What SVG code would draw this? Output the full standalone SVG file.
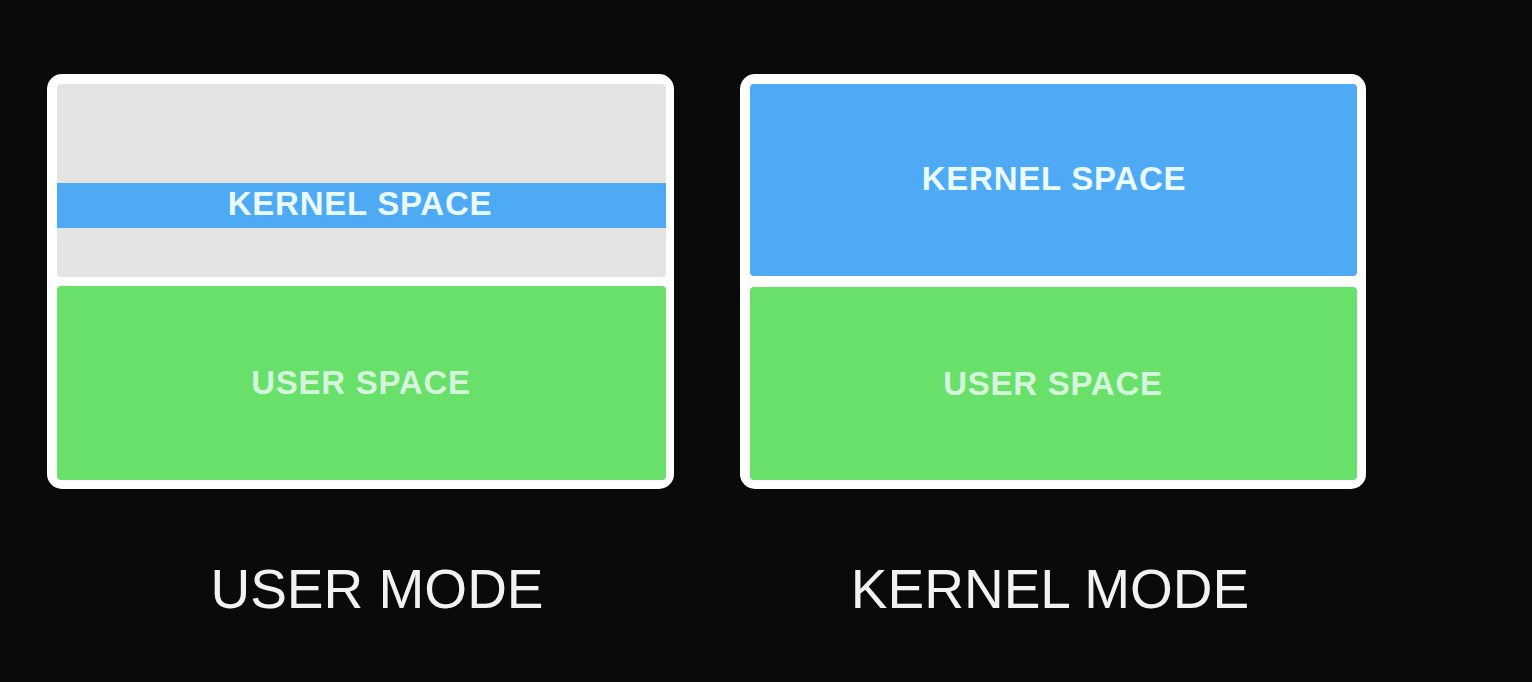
<svg xmlns="http://www.w3.org/2000/svg" width="1532" height="682" viewBox="0 0 1532 682">
<style>
.card{fill:#ffffff;}
.grey{fill:#e4e5e3;}
.blue{fill:#4eaaf4;}
.green{fill:#68e06a;}
.lbl{font-family:"Liberation Sans",Arial,sans-serif;font-weight:bold;font-size:33px;letter-spacing:0.75px;text-anchor:middle;}
.k{fill:#eafbff;}
.u{fill:#d4f5dc;}
.mode{font-family:"Liberation Sans",Arial,sans-serif;font-size:55px;fill:#f2f2f2;text-anchor:middle;}
</style>
<rect width="1532" height="682" fill="#0a0a0a"/>
<g id="user-mode">
<rect class="card" x="47" y="74" width="627" height="415" rx="15"/>
<rect class="grey" x="57" y="84" width="609" height="193" rx="4"/>
<rect class="blue" x="57" y="183" width="609" height="45"/>
<text class="lbl k" x="360" y="215">KERNEL SPACE</text>
<rect class="green" x="57" y="286" width="609" height="194" rx="4"/>
<text class="lbl u" x="361" y="394">USER SPACE</text>
<text class="mode" x="377" y="608">USER MODE</text>
</g>
<g id="kernel-mode">
<rect class="card" x="740" y="74" width="626" height="415" rx="15"/>
<rect class="blue" x="750" y="84" width="607" height="192" rx="4"/>
<text class="lbl k" x="1054" y="190">KERNEL SPACE</text>
<rect class="green" x="750" y="287" width="607" height="193" rx="4"/>
<text class="lbl u" x="1053" y="395">USER SPACE</text>
<text class="mode" x="1050" y="608">KERNEL MODE</text>
</g>
<g id="connectors"/>
</svg>
